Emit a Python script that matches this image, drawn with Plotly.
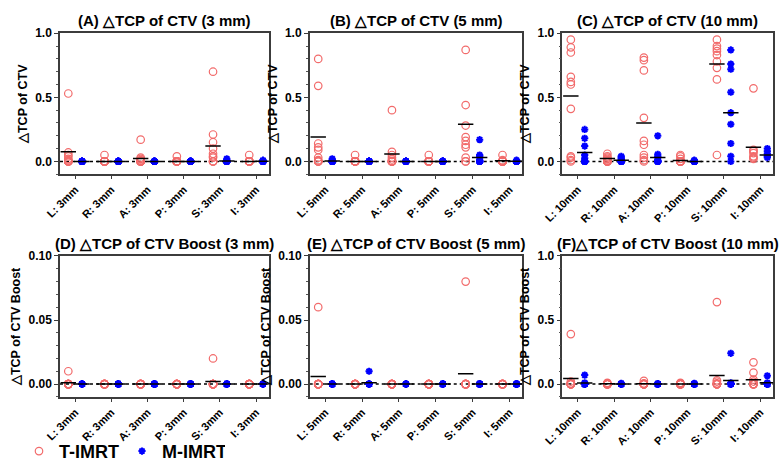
import plotly.graph_objects as go

# ---------------- data ----------------
groups = ["L", "R", "A", "P", "S", "I"]
titles = ["(A) △TCP of CTV (3 mm)", "(B) △TCP of CTV (5 mm)", "(C) △TCP of CTV (10 mm)",
          "(D) △TCP of CTV Boost (3 mm)", "(E) △TCP of CTV Boost (5 mm)", "(F)△TCP of CTV Boost (10 mm)"]
margins_mm = ["3mm", "5mm", "10mm", "3mm", "5mm", "10mm"]
ytitles = ["△TCP of CTV"] * 3 + ["△TCP of CTV Boost"] * 3

# Panel A: CTV, 3 mm
a_t = [[0.53, 0.07, 0.05, 0.04, 0.02, 0.01, 0, 0, 0, 0],
       [0.05, 0, 0, 0, 0, 0, 0, 0, 0, 0],
       [0.17, 0.03, 0.02, 0.01, 0, 0, 0, 0, 0, 0],
       [0.04, 0, 0, 0, 0, 0, 0, 0, 0, 0],
       [0.70, 0.21, 0.15, 0.10, 0.06, 0.04, 0.03, 0, 0, 0],
       [0.05, 0, 0, 0, 0, 0, 0, 0, 0, 0]]
a_m = [[0] * 10, [0] * 10, [0] * 10, [0] * 10,
       [0.02, 0.01, 0, 0, 0, 0, 0, 0, 0, 0],
       [0.01, 0, 0, 0, 0, 0, 0, 0, 0, 0]]
a_t_mean = [0.076, 0.0, 0.023, 0.0, 0.12, 0.0]
a_m_mean = [0.0, 0.0, 0.0, 0.0, 0.003, 0.001]

# Panel B: CTV, 5 mm
b_t = [[0.80, 0.59, 0.14, 0.11, 0.09, 0.03, 0.01, 0, 0, 0],
       [0.05, 0, 0, 0, 0, 0, 0, 0, 0, 0],
       [0.40, 0.075, 0.05, 0.03, 0.015, 0, 0, 0, 0, 0],
       [0.05, 0, 0, 0, 0, 0, 0, 0, 0, 0],
       [0.87, 0.44, 0.28, 0.19, 0.16, 0.13, 0.11, 0.03, 0, 0],
       [0.05, 0.01, 0, 0, 0, 0, 0, 0, 0, 0]]
b_m = [[0.02, 0.01, 0, 0, 0, 0, 0, 0, 0, 0],
       [0] * 10, [0] * 10, [0] * 10,
       [0.17, 0.05, 0.04, 0.03, 0.01, 0, 0, 0, 0, 0],
       [0.01, 0, 0, 0, 0, 0, 0, 0, 0, 0]]
b_t_mean = [0.19, 0.0, 0.058, 0.0, 0.29, 0.005]
b_m_mean = [0.004, 0.0, 0.0, 0.0, 0.03, 0.001]

# Panel C: CTV, 10 mm
c_t = [[0.95, 0.89, 0.85, 0.66, 0.62, 0.60, 0.41, 0.04, 0.03, 0.01, 0],
       [0.06, 0.04, 0.03, 0.02, 0.01, 0, 0, 0, 0, 0],
       [0.81, 0.79, 0.71, 0.34, 0.16, 0.13, 0.05, 0.03, 0.01, 0],
       [0.05, 0.04, 0.02, 0, 0, 0, 0, 0, 0, 0],
       [0.95, 0.90, 0.88, 0.86, 0.83, 0.78, 0.73, 0.64, 0.05],
       [0.57, 0.09, 0.08, 0.065, 0.04, 0.03, 0.02]]
c_m = [[0.25, 0.18, 0.12, 0.05, 0.025, 0, 0, 0, 0, 0],
       [0.04, 0.03, 0.02, 0.01, 0, 0, 0, 0, 0, 0],
       [0.20, 0.055, 0.04, 0.03, 0.01, 0, 0, 0, 0, 0],
       [0.01, 0, 0, 0, 0, 0, 0, 0, 0, 0],
       [0.87, 0.76, 0.72, 0.54, 0.38, 0.29, 0.14, 0.04, 0],
       [0.10, 0.08, 0.06, 0.04, 0.03]]
c_t_mean = [0.51, 0.023, 0.30, 0.008, 0.76, 0.11]
c_m_mean = [0.07, 0.01, 0.03, 0.0, 0.38, 0.05]

# Panel D: CTV Boost, 3 mm
d_t = [[0.01, 0, 0, 0, 0, 0, 0, 0, 0, 0],
       [0] * 10, [0] * 10, [0] * 10,
       [0.02, 0, 0, 0, 0, 0, 0, 0, 0, 0],
       [0] * 10]
d_m = [[0] * 10] * 6
d_t_mean = [0.001, 0.0, 0.0, 0.0, 0.002, 0.0]
d_m_mean = [0.0, 0.0, 0.0, 0.0, 0.0, 0.0]

# Panel E: CTV Boost, 5 mm
e_t = [[0.06, 0, 0, 0, 0, 0, 0, 0, 0, 0],
       [0] * 10, [0] * 10, [0] * 10,
       [0.08, 0, 0, 0, 0, 0, 0, 0, 0, 0],
       [0] * 10]
e_m = [[0] * 10,
       [0.01, 0, 0, 0, 0, 0, 0, 0, 0, 0],
       [0] * 10, [0] * 10, [0] * 10, [0] * 10]
e_t_mean = [0.006, 0.0, 0.0, 0.0, 0.008, 0.0]
e_m_mean = [0.0, 0.001, 0.0, 0.0, 0.0, 0.0]

# Panel F: CTV Boost, 10 mm
f_t = [[0.39, 0.02, 0.005, 0, 0, 0, 0, 0, 0, 0],
       [0.01, 0.005, 0, 0, 0, 0, 0, 0, 0, 0],
       [0.025, 0.005, 0, 0, 0, 0, 0, 0, 0, 0],
       [0.01, 0.005, 0, 0, 0, 0, 0, 0, 0, 0],
       [0.64, 0.03, 0.02, 0.005, 0, 0, 0, 0, 0, 0],
       [0.17, 0.09, 0.035, 0.02, 0, 0, 0, 0, 0, 0]]
f_m = [[0.07, 0.01, 0, 0, 0, 0, 0, 0, 0, 0],
       [0.005, 0, 0, 0, 0, 0, 0, 0, 0, 0],
       [0] * 10,
       [0.005, 0, 0, 0, 0, 0, 0, 0, 0, 0],
       [0.24, 0.01, 0, 0, 0, 0, 0, 0, 0, 0],
       [0.065, 0.01, 0, 0, 0, 0, 0, 0, 0, 0]]
f_t_mean = [0.043, 0.003, 0.003, 0.0, 0.068, 0.033]
f_m_mean = [0.008, 0.0, 0.0, 0.0, 0.028, 0.01]

panels_t = [a_t, b_t, c_t, d_t, e_t, f_t]
panels_m = [a_m, b_m, c_m, d_m, e_m, f_m]
means_t = [a_t_mean, b_t_mean, c_t_mean, d_t_mean, e_t_mean, f_t_mean]
means_m = [a_m_mean, b_m_mean, c_m_mean, d_m_mean, e_m_mean, f_m_mean]
y_ranges = [[-0.1, 1.0], [-0.1, 1.0], [-0.1, 1.0], [-0.01, 0.10], [-0.01, 0.10], [-0.1, 1.0]]
y_dticks = [0.5, 0.5, 0.5, 0.05, 0.05, 0.5]
y_formats = [".1f", ".1f", ".1f", ".2f", ".2f", ".1f"]

# ---------------- layout geometry (pixels) ----------------
W, H = 780, 470
x_px = [(42, 256), (298, 516), (557, 773)] * 2
y_px = [(27, 172)] * 3 + [(256, 401)] * 3
OFF = 0.19
RED = "#F26B6B"
BLUE = "#0000FF"
FONT = "Liberation Sans, Arial, sans-serif"

fig = go.Figure()
for p in range(6):
    ax = "" if p == 0 else str(p + 1)
    xr, yr = "x" + ax, "y" + ax
    tx, ty, mx, my = [], [], [], []
    for g in range(6):
        tx += [g - OFF] * len(panels_t[p][g]); ty += panels_t[p][g]
        mx += [g + OFF] * len(panels_m[p][g]); my += panels_m[p][g]
    fig.add_trace(go.Scatter(x=tx, y=ty, mode="markers", name="T-IMRT", xaxis=xr, yaxis=yr,
                             showlegend=(p == 0), legendgroup="t",
                             marker=dict(symbol="circle-open", size=7.5, color=RED, line=dict(width=1.2, color=RED))))
    fig.add_trace(go.Scatter(x=mx, y=my, mode="markers", name="M-IMRT", xaxis=xr, yaxis=yr,
                             showlegend=(p == 0), legendgroup="m",
                             marker=dict(symbol="asterisk-open", size=6, color=BLUE, line=dict(width=2, color=BLUE))))
    mean_x = [g - OFF for g in range(6)] + [g + OFF for g in range(6)]
    mean_y = means_t[p] + means_m[p]
    fig.add_trace(go.Scatter(x=mean_x, y=mean_y, mode="markers", showlegend=False, xaxis=xr, yaxis=yr,
                             hoverinfo="skip",
                             marker=dict(symbol="line-ew-open", size=11, color="black", line=dict(width=1.5, color="black"))))
    # dotted zero line
    fig.add_shape(type="line", xref=xr + " domain", yref=yr, x0=0, x1=1, y0=0, y1=0,
                  line=dict(color="black", width=1.5, dash="dot"), layer="below")

    x0, x1 = x_px[p]
    ytop, ybot = y_px[p]
    fig.layout["xaxis" + ax] = dict(
        domain=[x0 / W, x1 / W], anchor=yr, range=[-0.42, 5.35],
        tickmode="array", tickvals=list(range(6)),
        ticktext=[f"{g}: {margins_mm[p]}" for g in groups], tickangle=-45,
        tickfont=dict(family=FONT, size=11, color="black", weight="bold"),
        showline=True, mirror=True, linecolor="#3c3c3c", linewidth=1.5,
        ticks="outside", ticklen=3, tickwidth=1, tickcolor="#3c3c3c",
        showgrid=False, zeroline=False)
    fig.layout["yaxis" + ax] = dict(
        domain=[(H - ybot) / H, (H - ytop) / H], anchor=xr, range=y_ranges[p],
        dtick=y_dticks[p], tick0=0, tickformat=y_formats[p],
        tickfont=dict(family=FONT, size=12, color="black", weight="bold"),
        title=dict(text=ytitles[p], font=dict(family=FONT, size=12.5, color="black", weight="bold"), standoff=5),
        showline=True, mirror=True, linecolor="#3c3c3c", linewidth=1.5,
        ticks="outside", ticklen=4, tickwidth=1.2, tickcolor="#3c3c3c",
        minor=dict(dtick=y_dticks[p] / 5, ticks="outside", ticklen=2, tickwidth=1, tickcolor="#555"),
        showgrid=False, zeroline=False)
    fig.add_annotation(text=titles[p], xref="paper", yref="paper",
                       x=(x0 + x1) / 2 / W, y=(H - (ytop - 13)) / H, showarrow=False,
                       xanchor="center", yanchor="middle",
                       font=dict(family=FONT, size=15, color="black", weight="bold"))

fig.update_layout(
    width=W, height=H, margin=dict(l=0, r=0, t=0, b=0),
    paper_bgcolor="white", plot_bgcolor="white",
    showlegend=True,
    legend=dict(orientation="h", x=0.0, y=(H - 457) / H, xanchor="left", yanchor="middle",
                font=dict(family=FONT, size=18, color="black", weight="bold"),
                itemwidth=30, entrywidth=58, bgcolor="rgba(0,0,0,0)"),
)

fig.write_html("out.html", config={"displayModeBar": False},
               post_script="document.body.style.margin='0px';")
